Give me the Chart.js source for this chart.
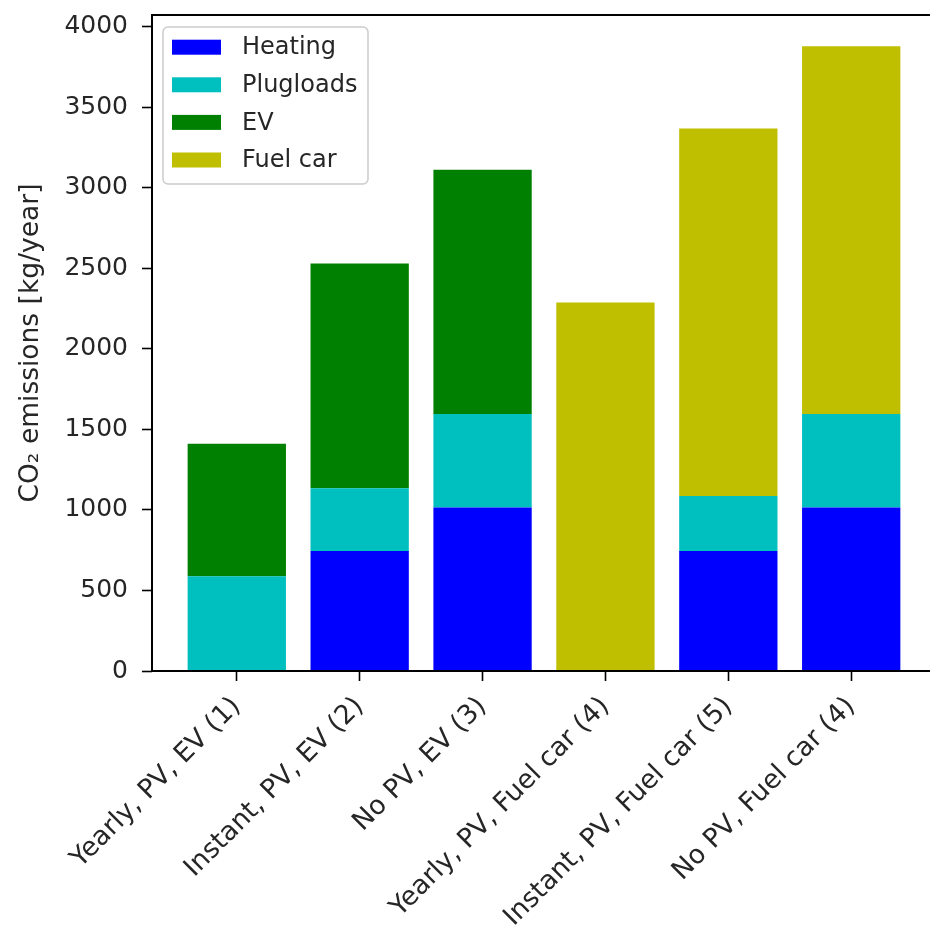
<!DOCTYPE html>
<html>
<head>
<meta charset="utf-8">
<script src="https://cdn.jsdelivr.net/npm/chart.js@4"></script>
<style>
  html, body { margin: 0; padding: 0; background: #fff; overflow: hidden; }
  #wrap { width: 945px; height: 929px; position: relative; }
</style>
</head>
<body>
<div id="wrap"><canvas id="myChart"></canvas></div>
<script>
'use strict';

// ***** data *****
const categories = [
  'Yearly, PV, EV (1)',
  'Instant, PV, EV (2)',
  'No PV, EV (3)',
  'Yearly, PV, Fuel car (4)',
  'Instant, PV, Fuel car (5)',
  'No PV, Fuel car (4)'
];
const heating = [0, 746, 1015, 0, 746, 1015];
const plugloads = [589, 389, 581, 0, 341, 581];
const ev = [823, 1395, 1517, 0, 0, 0];
const fuelCar = [0, 0, 0, 2288, 2282, 2284];
const yTicks = [0, 500, 1000, 1500, 2000, 2500, 3000, 3500, 4000];

const textColor = '#262626';
const family = 'DejaVu Sans';
const font = { family: family, size: 24 };

function points(values) {
  return values.map((v, i) => ({ x: i, y: v }));
}

// black box round the plot (matplotlib spines)
const frame = {
  id: 'frame',
  afterDatasetsDraw(chart) {
    const a = chart.chartArea;
    const c = chart.ctx;
    c.save();
    c.strokeStyle = '#000';
    c.lineWidth = 2;
    c.strokeRect(a.left, a.top, a.right - a.left, a.bottom - a.top);
    c.restore();
  }
};

// legend box in the upper left corner of the plot
const legendBox = {
  id: 'legendBox',
  afterDatasetsDraw(chart) {
    const a = chart.chartArea;
    const c = chart.ctx;
    const x0 = a.left + 11;
    const y0 = a.top + 12;
    const w = 205;
    const h = 157;
    c.save();
    c.beginPath();
    c.roundRect(x0, y0, w, h, 5);
    c.fillStyle = 'rgba(255,255,255,0.8)';
    c.fill();
    c.strokeStyle = '#cccccc';
    c.lineWidth = 1.5;
    c.stroke();
    c.font = font.size + 'px ' + font.family;
    c.textBaseline = 'middle';
    chart.data.datasets.forEach((ds, i) => {
      const cy = y0 + 20.2 + 37.6 * i;
      c.fillStyle = ds.backgroundColor;
      c.fillRect(x0 + 9, cy - 7.5, 49, 15);
      c.fillStyle = textColor;
      c.fillText(ds.label, x0 + 79, cy + 1);
    });
    c.restore();
  }
};

const ctx = document.getElementById('myChart').getContext('2d');

const myChart = new Chart(ctx, {
  type: 'bar',
  data: {
    datasets: [
      { label: 'Heating', data: points(heating), backgroundColor: '#0000ff' },
      { label: 'Plugloads', data: points(plugloads), backgroundColor: '#00bfbf' },
      { label: 'EV', data: points(ev), backgroundColor: '#008000' },
      { label: 'Fuel car', data: points(fuelCar), backgroundColor: '#bfbf00' }
    ]
  },
  options: {
    responsive: true,
    maintainAspectRatio: false,
    animation: false,
    barPercentage: 0.8,
    categoryPercentage: 1,
    layout: { padding: { top: 15, right: 9, left: 0, bottom: 0 } },
    plugins: {
      legend: { display: false },
      tooltip: { enabled: false }
    },
    scales: {
      x: {
        type: 'linear',
        stacked: true,
        offset: false,
        min: -0.69,
        max: 5.69,
        afterBuildTicks: (s) => { s.ticks = categories.map((c, i) => ({ value: i })); },
        afterFit: (s) => {
          s.height = 258;
          s.paddingLeft = 0;
          s.paddingRight = 0;
        },
        ticks: {
          callback: (v) => categories[v],
          minRotation: 45,
          maxRotation: 45,
          autoSkip: false,
          padding: 10,
          font: { family: family, size: 26.5 },
          color: textColor
        },
        grid: { offset: false, drawOnChartArea: false, tickLength: 10, tickColor: '#000', tickWidth: 1.6 },
        border: { display: false }
      },
      y: {
        stacked: true,
        min: 0,
        max: 4074,
        afterBuildTicks: (s) => { s.ticks = yTicks.map(v => ({ value: v })); },
        afterFit: (s) => {
          s.width = 152;
          s.paddingTop = 0;
          s.paddingBottom = 0;
        },
        ticks: { padding: 14, font: { family: family, size: 25 }, color: textColor, callback: (v) => String(v) },
        grid: { drawOnChartArea: false, tickLength: 10, tickColor: '#000', tickWidth: 1.6 },
        border: { display: false },
        title: {
          display: true,
          text: 'CO₂ emissions [kg/year]',
          font: { family: family, size: 26.5 },
          color: textColor,
          padding: { top: 15.5, bottom: 0 }
        }
      }
    }
  },
  plugins: [frame, legendBox]
});
</script>
</body>
</html>
